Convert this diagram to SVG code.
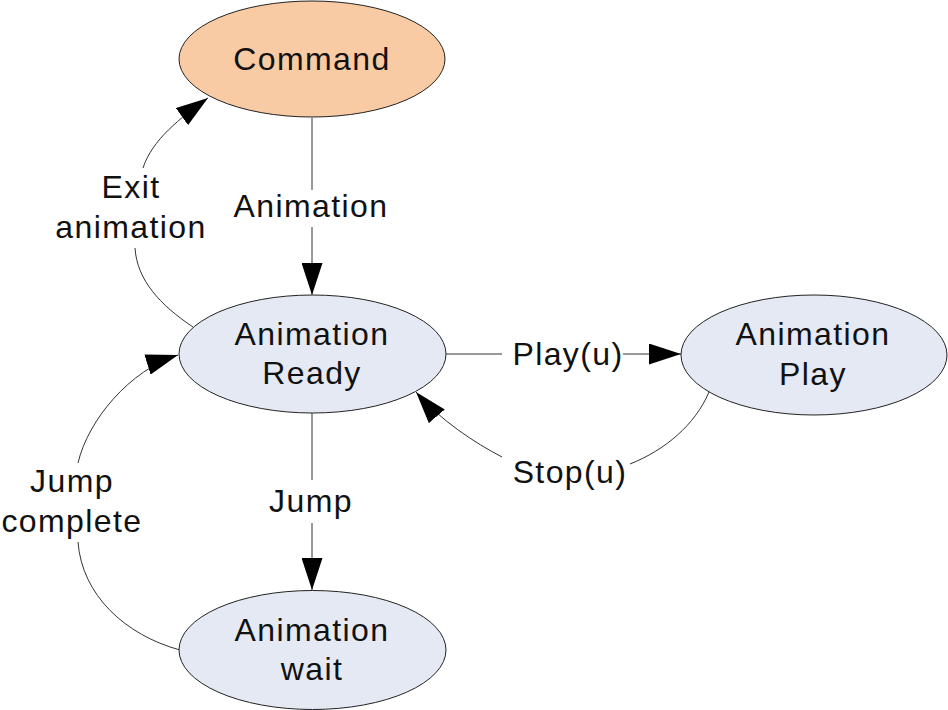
<svg xmlns="http://www.w3.org/2000/svg" width="948" height="710" viewBox="0 0 948 710">
<defs>
<style>
.node{stroke:#222;stroke-width:1}
.cmd{fill:#F8CBA5}
.st{fill:#E5E9F4}
text{font-family:"Liberation Sans",Arial,sans-serif;font-size:32px;fill:#111;text-anchor:middle;letter-spacing:1.4px}
.edge{fill:none;stroke:#333;stroke-width:1}
</style>
<marker id="ah" markerWidth="32" markerHeight="21" refX="32" refY="10.5" orient="auto" markerUnits="userSpaceOnUse" viewBox="0 0 32 21"><path d="M0,0 L32,10.5 L0,21 z" fill="#000"/></marker>
</defs>
<rect width="948" height="710" fill="#fff"/>
<g id="connectors">
<line class="edge" x1="312" y1="118" x2="312" y2="190"/>
<line class="edge" x1="312" y1="227" x2="312" y2="295" marker-end="url(#ah)"/>
<line class="edge" x1="446" y1="354" x2="502" y2="354"/>
<line class="edge" x1="623" y1="354" x2="681" y2="354" marker-end="url(#ah)"/>
<line class="edge" x1="312" y1="413" x2="312" y2="480"/>
<line class="edge" x1="312" y1="523" x2="312" y2="590" marker-end="url(#ah)"/>
<path class="edge" d="M193,327 C160,305 137,280 135,248"/>
<path class="edge" d="M143,168 C152,140 180,118 208,98" marker-end="url(#ah)"/>
<path class="edge" d="M709,392 C695,425 665,450 630,464"/>
<path class="edge" d="M502,457 C475,443 440,420 416,392" marker-end="url(#ah)"/>
<path class="edge" d="M180,650 C125,635 82,595 78,542"/>
<path class="edge" d="M78,463 C88,420 130,370 178,355" marker-end="url(#ah)"/>
<text x="311" y="217">Animation</text>
<text x="568" y="365">Play(u)</text>
<text x="570" y="483">Stop(u)</text>
<text x="311" y="512">Jump</text>
<text x="131" y="198">Exit</text>
<text x="131" y="238">animation</text>
<text x="72" y="492">Jump</text>
<text x="72" y="532">complete</text>
</g>
<g id="command">
<ellipse class="node cmd" cx="312" cy="59" rx="133" ry="58"/>
<text x="312" y="70">Command</text>
</g>
<g id="animation-ready">
<ellipse class="node st" cx="312.5" cy="354" rx="133.5" ry="59"/>
<text x="312" y="345">Animation</text>
<text x="312" y="384">Ready</text>
</g>
<g id="animation-play">
<ellipse class="node st" cx="814" cy="355" rx="133" ry="60"/>
<text x="813" y="345">Animation</text>
<text x="813" y="385">Play</text>
</g>
<g id="animation-wait">
<ellipse class="node st" cx="312.5" cy="650" rx="133.5" ry="59.5"/>
<text x="312" y="641">Animation</text>
<text x="312" y="680">wait</text>
</g>
</svg>
